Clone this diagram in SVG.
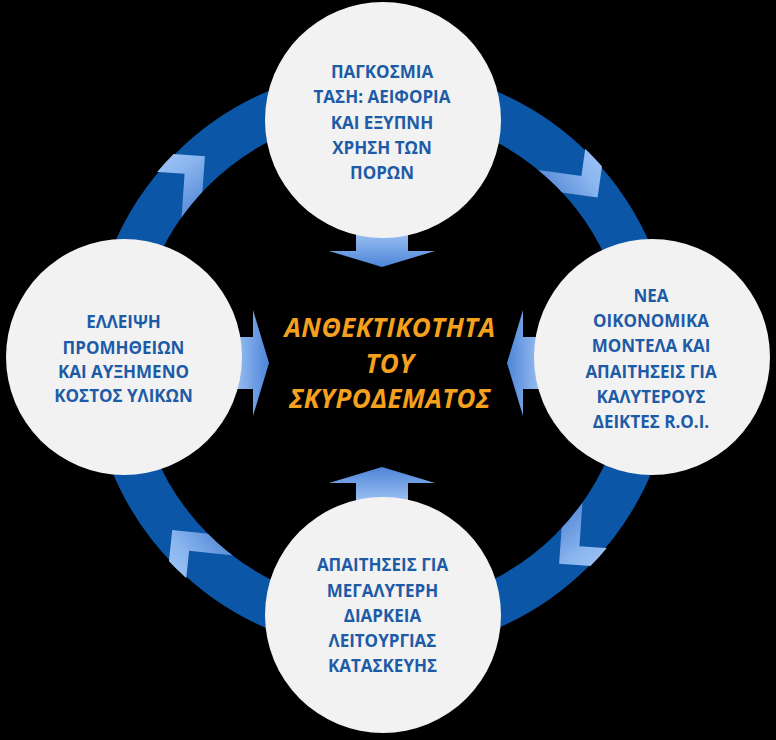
<svg xmlns="http://www.w3.org/2000/svg" width="776" height="740" viewBox="0 0 776 740">
  <defs>
    <style>
      .circ { fill: #f2f2f2; }
      .lbl { font-family: "Open Sans", "Liberation Sans", sans-serif; font-weight: 700; font-size: 17px; fill: #1d5ba6; text-anchor: middle; }
      .ctr { font-family: "Open Sans", "Liberation Sans", sans-serif; font-weight: 700; font-style: italic; font-size: 26px; letter-spacing: 0.5px; fill: #f5a01f; text-anchor: middle; }
      .ring { fill: none; stroke: #0b56a6; stroke-width: 46; }
      .chev { fill: url(#gChev); }
      .arr { fill: url(#gArr); }
    </style>
    <linearGradient id="gArr" x1="0" y1="0" x2="1" y2="0">
      <stop offset="0" stop-color="#a9caf6"/>
      <stop offset="1" stop-color="#4d85d9"/>
    </linearGradient>
    <linearGradient id="gChev" x1="0" y1="0" x2="0" y2="1">
      <stop offset="0" stop-color="#aacdf9"/>
      <stop offset="0.45" stop-color="#8ab5ef"/>
      <stop offset="1" stop-color="#4a7fd0"/>
    </linearGradient>
    <clipPath id="ringClip">
      <path clip-rule="evenodd" d="M 675 360 A 293 293 0 1 0 89 360 A 293 293 0 1 0 675 360 Z M 628 360 A 246 246 0 1 0 136 360 A 246 246 0 1 0 628 360 Z"/>
    </clipPath>
    <polygon id="chevShape" points="0,0 -45,45 -71.9,45 -26.9,0 -71.9,-45 -45,-45"/>
    <polygon id="arrShape" points="-40,-26 -16,-26 -16,-53 0,0 -16,53 -16,26 -40,26"/>
  </defs>

  <rect x="0" y="0" width="776" height="740" fill="#000000"/>

  <g id="connectors">
    <circle class="ring" cx="382" cy="360" r="269"/>
    <g clip-path="url(#ringClip)">
      <use href="#chevShape" class="chev" transform="translate(204.9,156.2) rotate(319)"/>
      <use href="#chevShape" class="chev" transform="translate(597.6,197.5) rotate(53)"/>
      <use href="#chevShape" class="chev" transform="translate(559.1,563.8) rotate(139)"/>
      <use href="#chevShape" class="chev" transform="translate(172.2,529.9) rotate(231)"/>
    </g>
    <use href="#arrShape" class="arr" transform="translate(382,267) rotate(90)"/>
    <use href="#arrShape" class="arr" transform="translate(269,363)"/>
    <use href="#arrShape" class="arr" transform="translate(507,363) rotate(180)"/>
    <use href="#arrShape" class="arr" transform="translate(382,467) rotate(-90)"/>
  </g>

  <g id="node-top">
    <circle class="circ" cx="383" cy="120" r="118"/>
    <text class="lbl" x="382" y="78">ΠΑΓΚΟΣΜΙΑ</text>
    <text class="lbl" x="382" y="103">ΤΑΣΗ: ΑΕΙΦΟΡΙΑ</text>
    <text class="lbl" x="382" y="128.5">ΚΑΙ ΕΞΥΠΝΗ</text>
    <text class="lbl" x="382" y="154">ΧΡΗΣΗ ΤΩΝ</text>
    <text class="lbl" x="382" y="179">ΠΟΡΩΝ</text>
  </g>

  <g id="node-right">
    <circle class="circ" cx="652" cy="357" r="118"/>
    <text class="lbl" x="651" y="302">ΝΕΑ</text>
    <text class="lbl" x="651" y="327">ΟΙΚΟΝΟΜΙΚΑ</text>
    <text class="lbl" x="651" y="352">ΜΟΝΤΕΛΑ ΚΑΙ</text>
    <text class="lbl" x="651" y="377.5">ΑΠΑΙΤΗΣΕΙΣ ΓΙΑ</text>
    <text class="lbl" x="651" y="403">ΚΑΛΥΤΕΡΟΥΣ</text>
    <text class="lbl" x="651" y="428">ΔΕΙΚΤΕΣ R.O.I.</text>
  </g>

  <g id="node-bottom">
    <circle class="circ" cx="383" cy="615" r="118"/>
    <text class="lbl" x="382.5" y="571">ΑΠΑΙΤΗΣΕΙΣ ΓΙΑ</text>
    <text class="lbl" x="382.5" y="597">ΜΕΓΑΛΥΤΕΡΗ</text>
    <text class="lbl" x="382.5" y="622">ΔΙΑΡΚΕΙΑ</text>
    <text class="lbl" x="382.5" y="647">ΛΕΙΤΟΥΡΓΙΑΣ</text>
    <text class="lbl" x="382.5" y="672">ΚΑΤΑΣΚΕΥΗΣ</text>
  </g>

  <g id="node-left">
    <circle class="circ" cx="124" cy="357" r="118"/>
    <text class="lbl" x="123.5" y="328">ΕΛΛΕΙΨΗ</text>
    <text class="lbl" x="123.5" y="354">ΠΡΟΜΗΘΕΙΩΝ</text>
    <text class="lbl" x="123.5" y="378">ΚΑΙ ΑΥΞΗΜΕΝΟ</text>
    <text class="lbl" x="123.5" y="402">ΚΟΣΤΟΣ ΥΛΙΚΩΝ</text>
  </g>

  <g id="node-center">
    <text class="ctr" x="390" y="337">ΑΝΘΕΚΤΙΚΟΤΗΤΑ</text>
    <text class="ctr" x="390" y="373">ΤΟΥ</text>
    <text class="ctr" x="390" y="408">ΣΚΥΡΟΔΕΜΑΤΟΣ</text>
  </g>
</svg>
